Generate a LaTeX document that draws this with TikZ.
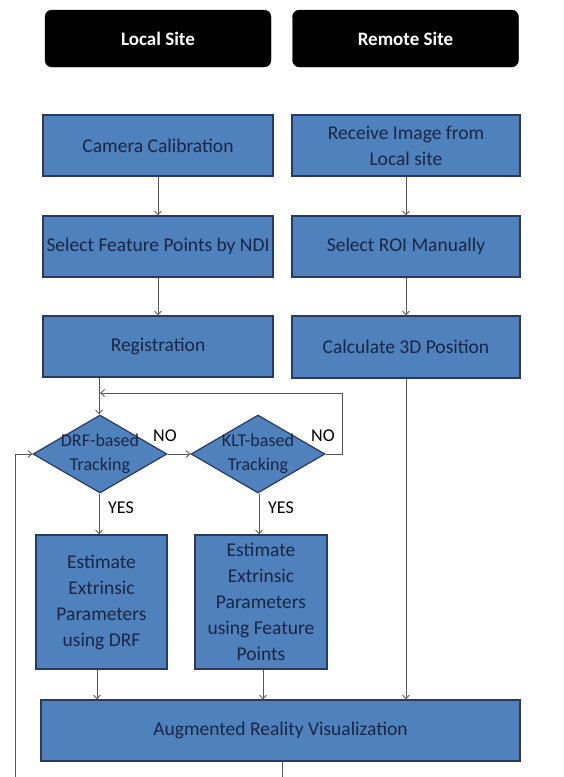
\documentclass[tikz,border=0pt]{standalone}
\usepackage{fontspec}
\setmainfont{Carlito}
\usetikzlibrary{arrows.meta,shapes.geometric}
\definecolor{boxfill}{RGB}{79,129,189}
\definecolor{boxline}{RGB}{40,58,95}
\definecolor{boxtext}{RGB}{27,38,68}
\definecolor{conn}{RGB}{85,85,85}
\tikzset{
  hdr/.style={draw=black, fill=black, rounded corners=7pt, text=white, font=\fontsize{19}{23}\selectfont\bfseries, minimum width=226pt, minimum height=57pt, inner sep=0pt},
  proc/.style={draw=boxline, fill=boxfill, line width=1.2pt, text=boxtext, font=\fontsize{19.5}{26}\selectfont, align=center, inner sep=0pt},
  dia/.style={diamond, draw=boxline, fill=boxfill, line width=1.2pt, inner sep=0pt, minimum width=134pt, minimum height=78pt},
  dtext/.style={text=boxtext, font=\fontsize{18}{24}\selectfont, align=center, inner sep=0pt},
  lbl/.style={text=black, font=\fontsize{18}{20}\selectfont, inner sep=0pt},
  arr/.style={draw=conn, line width=0.8pt, -{Straight Barb[length=4pt,width=7pt]}},
  ln/.style={draw=conn, line width=0.8pt}
}
\begin{document}
\begin{tikzpicture}[x=1pt,y=-1pt]
\useasboundingbox[fill=white] (0,0) rectangle (563,777);
% headers
\node[hdr] (hl) at (158,38.5) {Local Site};
\node[hdr] (hr) at (405.5,38.5) {Remote Site};
% boxes
\node[proc, minimum width=230pt, minimum height=61pt] (cam) at (158,145.5) {Camera Calibration};
\node[proc, minimum width=228pt, minimum height=61pt] (recv) at (406,145.5) {Receive Image from\\Local site};
\node[proc, minimum width=230pt, minimum height=61pt] (sel) at (158,246.5) {Select Feature Points by NDI};
\node[proc, minimum width=228pt, minimum height=61pt] (roi) at (406,246.5) {Select ROI Manually};
\node[proc, minimum width=230pt, minimum height=61pt] (reg) at (158,346.5) {Registration};
\node[proc, minimum width=228pt, minimum height=62pt] (calc) at (406,347) {Calculate 3D Position};
% diamonds
\node[dia] (drf) at (100,454) {};
\node[dtext] (drft) at (drf) {DRF-based\\Tracking};
\node[dia] (klt) at (258,454) {};
\node[dtext] (kltt) at (klt) {KLT-based\\Tracking};
% estimate boxes
\node[proc, minimum width=131pt, minimum height=134pt] (esta) at (101.5,602) {Estimate\\Extrinsic\\Parameters\\using DRF};
\node[proc, minimum width=132pt, minimum height=134pt] (estb) at (261,602) {Estimate\\Extrinsic\\Parameters\\using Feature\\Points};
% AR
\node[proc, minimum width=479pt, minimum height=61pt] (ar) at (280.5,730.5) {Augmented Reality Visualization};
% labels
\node[lbl] (no1) at (165,436) {NO};
\node[lbl] (no2) at (323,436) {NO};
\node[lbl] (yes1) at (121,508) {YES};
\node[lbl] (yes2) at (281,508) {YES};
% coordinates
\coordinate (merge) at (99,393);
\coordinate (botL) at (15,777);
\coordinate (botR) at (282,777);
% connectors
\draw[arr] (cam) -- (sel);
\draw[arr] (recv) -- (roi);
\draw[arr] (sel) -- (reg);
\draw[arr] (roi) -- (calc);
\draw[arr] (reg.south -| merge) -- (drf.north -| merge);
\draw[arr] (klt.east) -- ++(17,0) |- ([xshift=1pt]merge);
\draw[arr] (drf.east) -- (klt.west);
\draw[arr] (drf.south -| merge) -- (esta.north -| merge);
\draw[arr] (klt.south -| 259,0) -- (esta.north -| 259,0);
\draw[arr] (esta.south -| 97,0) -- (ar.north -| 97,0);
\draw[arr] (estb.south -| 263,0) -- (ar.north -| 263,0);
\draw[arr] (calc) -- (calc |- ar.north);
\draw[ln] (ar.south -| botR) -- (botR);
\draw[arr] (botL) |- (drf.west);
\end{tikzpicture}
\end{document}
